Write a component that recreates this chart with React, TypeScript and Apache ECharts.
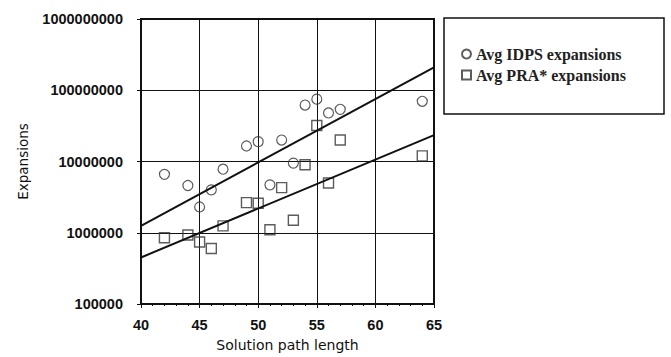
import React, { useEffect, useRef } from "react";
import * as echarts from "echarts";

const idpsX = [42, 44, 45, 46, 47, 49, 50, 51, 52, 53, 54, 55, 56, 57, 64];
const idpsY = [6.6e6, 4.6e6, 2.3e6, 4.0e6, 7.8e6, 1.65e7, 1.9e7, 4.7e6, 2.0e7, 9.5e6, 6.2e7, 7.5e7, 4.8e7, 5.4e7, 7.0e7];
const praX = [42, 44, 45, 46, 47, 49, 50, 51, 52, 53, 54, 55, 56, 57, 64];
const praY = [8.5e5, 9.3e5, 7.4e5, 6.0e5, 1.25e6, 2.65e6, 2.6e6, 1.1e6, 4.3e6, 1.5e6, 9.0e6, 3.2e7, 5.0e6, 2.0e7, 1.2e7];
const idpsFitX = [40, 65];
const idpsFitY = [1.25e6, 2.1e8];
const praFitX = [40, 65];
const praFitY = [4.5e5, 2.35e7];
const seriesNames = ["Avg IDPS expansions", "Avg PRA* expansions"];
const xTitle = "Solution path length";
const yTitle = "Expansions";

const zip = (xs: number[], ys: number[]) => xs.map((x, i) => [x, ys[i]]);

export default function App() {
  const ref = useRef<HTMLDivElement>(null);
  useEffect(() => {
    if (!ref.current) return;
    const chart = echarts.init(ref.current, null, { renderer: "svg" });
    const ink = "#111";
    const tickFont = { fontFamily: "Liberation Sans", fontSize: 14.5, fontWeight: "bold" as const, color: ink };
    chart.setOption({
      animation: false,
      backgroundColor: "#fff",
      grid: { left: 141, right: 237, top: 19, bottom: 49, show: true, borderColor: ink, borderWidth: 2 },
      legend: {
        data: seriesNames,
        orient: "vertical",
        left: 456,
        top: 41,
        itemWidth: 9,
        itemHeight: 9,
        itemGap: 5,
        textStyle: { fontFamily: "Liberation Serif", fontSize: 16, fontWeight: "bold", color: "#222" },
      },
      graphic: [
        {
          type: "rect",
          shape: { x: 444, y: 18, width: 220, height: 96 },
          style: { fill: "none", stroke: ink, lineWidth: 1.5 },
        },
      ],
      xAxis: {
        type: "value",
        min: 40,
        max: 65,
        interval: 5,
        name: xTitle,
        nameLocation: "middle",
        nameGap: 34,
        nameTextStyle: { fontFamily: "DejaVu Sans", fontSize: 14, color: ink },
        axisLine: { show: true, lineStyle: { color: ink, width: 2 } },
        axisTick: { show: true, length: 4, lineStyle: { color: ink } },
        minorTick: { show: true, splitNumber: 5, length: 2, lineStyle: { color: ink } },
        splitLine: { show: true, lineStyle: { color: ink, width: 1 } },
        axisLabel: { ...tickFont, margin: 13 },
      },
      yAxis: {
        type: "log",
        logBase: 10,
        min: 1e5,
        max: 1e9,
        name: yTitle,
        nameLocation: "middle",
        nameGap: 111,
        nameTextStyle: { fontFamily: "DejaVu Sans", fontSize: 13.5, color: ink },
        axisLine: { show: true, lineStyle: { color: ink, width: 2 } },
        axisTick: { show: true, length: 4, lineStyle: { color: ink } },
        splitLine: { show: true, lineStyle: { color: ink, width: 1 } },
        axisLabel: {
          ...tickFont,
          margin: 18,
          formatter: (v: number) => String(Math.round(v)),
        },
      },
      series: [
        {
          name: seriesNames[0],
          type: "scatter",
          symbol: "circle",
          symbolSize: 10,
          data: zip(idpsX, idpsY),
          itemStyle: { color: "rgba(255,255,255,0)", borderColor: "#333", borderWidth: 1.2 },
          z: 3,
        },
        {
          name: seriesNames[1],
          type: "scatter",
          symbol: "rect",
          symbolSize: 10,
          data: zip(praX, praY),
          itemStyle: { color: "rgba(255,255,255,0)", borderColor: "#333", borderWidth: 1.4 },
          z: 3,
        },
        {
          type: "line",
          data: zip(idpsFitX, idpsFitY),
          showSymbol: false,
          lineStyle: { color: ink, width: 2 },
          silent: true,
          z: 4,
        },
        {
          type: "line",
          data: zip(praFitX, praFitY),
          showSymbol: false,
          lineStyle: { color: ink, width: 2 },
          silent: true,
          z: 4,
        },
      ],
    });
    return () => chart.dispose();
  }, []);
  return <div ref={ref} style={{ width: 671, height: 357, position: "absolute", left: 0, top: 0 }} />;
}
